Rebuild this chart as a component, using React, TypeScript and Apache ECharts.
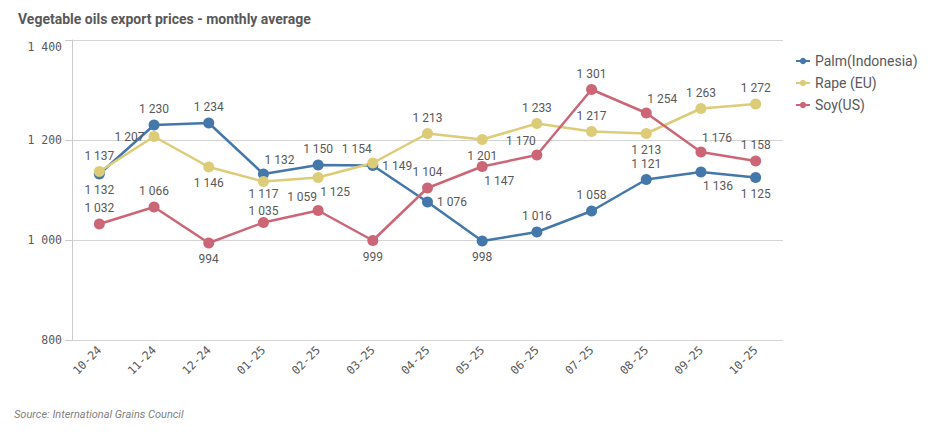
import React, { useEffect, useRef } from "react";
import * as echarts from "echarts";

const months = ["10-24", "11-24", "12-24", "01-25", "02-25", "03-25", "04-25", "05-25", "06-25", "07-25", "08-25", "09-25", "10-25"];
const palm = [1132, 1230, 1234, 1132, 1150, 1149, 1076, 998, 1016, 1058, 1121, 1136, 1125];
const rape = [1137, 1207, 1146, 1117, 1125, 1154, 1213, 1201, 1233, 1217, 1213, 1263, 1272];
const soy = [1032, 1066, 994, 1035, 1059, 999, 1104, 1147, 1170, 1301, 1254, 1176, 1158];

// label placement (style only)
const palmLab = ["b", "t", "t", "tr", "t", "r", "r", "b", "t", "t", "t", "br", "b"];
const rapeLab = ["t", "l", "b", "bu", "br", "tl", "t", "b", "t", "t", "b", "t", "t"];
const soyLab = ["t", "t", "b", "td", "tl", "b", "t", "br", "tl", "t", "tr", "tr", "t"];

const fmt = (v: number) => {
  if (v < 1000) return String(v);
  return `${Math.floor(v / 1000)} ${String(v % 1000).padStart(3, "0")}`;
};

const place = (k: string): any => {
  switch (k) {
    case "t": return { position: "top", offset: [0, 0] };
    case "td": return { position: "top", offset: [0, 4] };
    case "b": return { position: "bottom", offset: [0, 0] };
    case "bu": return { position: "bottom", offset: [0, -4] };
    case "l": return { position: "left", offset: [0, 0] };
    case "r": return { position: "right", offset: [0, 0] };
    case "tl": return { position: "top", offset: [-16, 2] };
    case "tr": return { position: "top", offset: [16, 2] };
    case "bl": return { position: "bottom", offset: [-16, -2] };
    case "br": return { position: "bottom", offset: [17, -2] };
  }
  return { position: "top" };
};

const mkSeries = (name: string, vals: number[], labs: string[], color: string) => ({
  name,
  type: "line",
  data: vals.map((v, i) => ({ value: v, label: place(labs[i]) })),
  symbol: "circle",
  symbolSize: 11,
  lineStyle: { width: 2.5, color },
  itemStyle: { color },
  label: {
    show: true,
    formatter: (p: any) => fmt(p.value),
    fontFamily: "Roboto",
    fontSize: 12,
    lineHeight: 13,
    color: "#595959",
    distance: 4,
  },
});

export default function App() {
  const ref = useRef<HTMLDivElement>(null);
  useEffect(() => {
    if (!ref.current) return;
    const chart = echarts.init(ref.current, undefined, { renderer: "svg" });
    chart.setOption({
      animation: false,
      backgroundColor: "#ffffff",
      title: {
        text: "Vegetable oils export prices - monthly average",
        left: 13,
        top: 7,
        textStyle: { fontFamily: "Roboto", fontWeight: "bold", fontSize: 14, color: "#595959" },
      },
      legend: {
        orient: "vertical",
        left: 790,
        top: 49,
        itemGap: 8,
        itemWidth: 14,
        itemHeight: 8,
        textStyle: { fontFamily: "Roboto", fontSize: 14, color: "#595959" },
        data: ["Palm(Indonesia)", "Rape (EU)", "Soy(US)"],
      },
      grid: { left: 72, right: 154, top: 40, bottom: 92, containLabel: false },
      xAxis: {
        type: "category",
        data: months,
        boundaryGap: true,
        axisLine: { show: false },
        axisTick: { show: false },
        axisLabel: {
          rotate: 45,
          fontFamily: "DejaVu Sans Mono",
          fontSize: 11.5,
          color: "#595959",
          margin: 8,
        },
      },
      yAxis: {
        type: "value",
        min: 800,
        max: 1400,
        interval: 200,
        axisLine: { show: true, lineStyle: { color: "#cccccc", width: 1 } },
        axisTick: { show: true, length: 7, lineStyle: { color: "#cccccc" } },
        splitLine: { show: true, lineStyle: { color: "#d4d4d4", width: 1 } },
        axisLabel: {
          formatter: (v: number) => (v === 1400 ? `{top|${fmt(v)}}` : fmt(v)),
          rich: { top: { padding: [14, 0, 0, 0], fontFamily: "DejaVu Sans Mono", fontSize: 11.5, color: "#595959" } },
          fontFamily: "DejaVu Sans Mono",
          fontSize: 11.5,
          color: "#595959",
          margin: 10,
        },
      },
      series: [
        mkSeries("Palm(Indonesia)", palm, palmLab, "#4477aa"),
        mkSeries("Rape (EU)", rape, rapeLab, "#ddcc77"),
        mkSeries("Soy(US)", soy, soyLab, "#cc6677"),
      ],
      graphic: [
        {
          type: "text",
          left: 14,
          top: 409,
          style: {
            text: "Source: International Grains Council",
            fontFamily: "Roboto",
            fontStyle: "italic",
            fontSize: 11,
            fill: "#7f7f7f",
          },
        },
      ],
    });
    return () => chart.dispose();
  }, []);
  return <div ref={ref} style={{ position: "fixed", left: 0, top: 0, width: 937, height: 432 }} />;
}
